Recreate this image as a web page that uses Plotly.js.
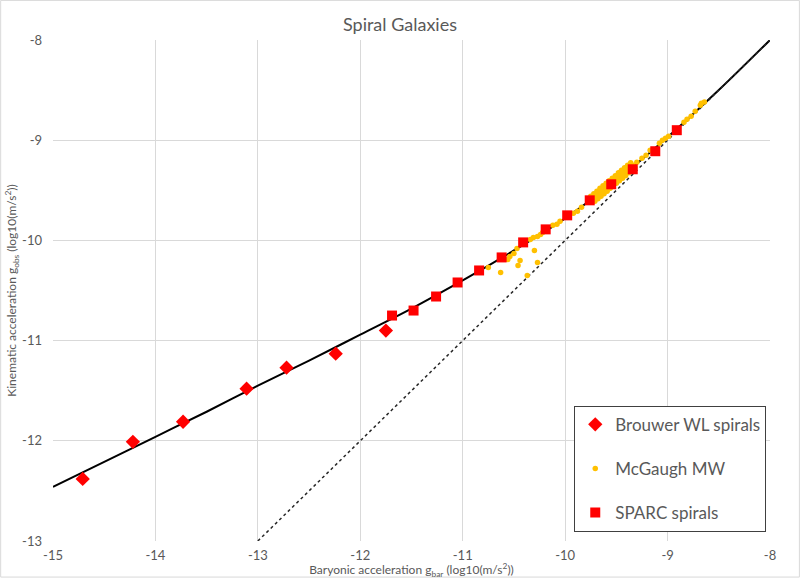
<!DOCTYPE html>
<html>
<head>
<meta charset="utf-8">
<script src="https://cdn.plot.ly/plotly-3.0.1.min.js"></script>
<style>
  body { margin: 0; background: #fff; }
  #chart { width: 800px; height: 579px; }
</style>
</head>
<body>
<div id="chart"></div>
<script>
// Relation curve (log10 g_bar vs log10 g_obs)
const curveX = [-15, -14.5, -14, -13.5, -13, -12.5, -12, -11.5, -11, -10.5, -10, -9.5, -9, -8.5, -8];
const curveY = [-12.46, -12.21, -11.96, -11.71, -11.45, -11.2, -10.94, -10.68, -10.4, -10.1, -9.78, -9.4, -8.97, -8.5, -8.0];

// 1:1 line
const unityX = [-13, -8];
const unityY = [-13, -8];

// Brouwer WL spirals
const brouwerX = [-14.71, -14.22, -13.73, -13.11, -12.72, -12.24, -11.75];
const brouwerY = [-12.38, -12.01, -11.81, -11.48, -11.27, -11.13, -10.9];

// SPARC spirals
const sparcX = [-11.69, -11.48, -11.26, -11.05, -10.84, -10.62, -10.41, -10.19, -9.98, -9.76, -9.55, -9.34, -9.12, -8.91];
const sparcY = [-10.75, -10.7, -10.56, -10.42, -10.3, -10.17, -10.02, -9.89, -9.75, -9.6, -9.44, -9.29, -9.11, -8.9];

// McGaugh MW
const mwX = [
  -10.75, -10.63, -10.56, -10.54, -10.5, -10.47, -10.46, -10.44, -10.37, -10.3, -10.27,
  -10.34, -10.31, -10.27, -10.24, -10.22, -10.12, -10.08, -10.05,
  -9.92, -9.88, -9.84,
  -9.73, -9.7, -9.67, -9.64, -9.61, -9.58, -9.55, -9.52, -9.49, -9.46, -9.43, -9.4, -9.37, -9.34,
  -9.75, -9.72, -9.69, -9.66, -9.63, -9.6, -9.57, -9.54, -9.51, -9.48, -9.45, -9.42, -9.39, -9.36,
  -9.71, -9.68, -9.65, -9.62, -9.59, -9.56, -9.53, -9.5, -9.47, -9.44, -9.41, -9.38, -9.35, -9.32,
  -9.3, -9.25, -9.21, -9.17, -9.08, -9.05, -9.02, -8.99, -8.84, -8.81, -8.77, -8.73, -8.68, -8.67, -8.64
];
const mwY = [
  -10.27, -10.32, -10.19, -10.16, -10.13, -10.08, -10.25, -10.2, -10.35, -10.1, -10.22,
  -9.99, -9.97, -9.96, -9.94, -9.92, -9.85, -9.84, -9.81,
  -9.73, -9.71, -9.67,
  -9.58, -9.56, -9.53, -9.51, -9.48, -9.46, -9.43, -9.4, -9.38, -9.35, -9.33, -9.3, -9.27, -9.25,
  -9.56, -9.535, -9.51, -9.48, -9.455, -9.43, -9.405, -9.38, -9.355, -9.325, -9.3, -9.275, -9.25, -9.225,
  -9.61, -9.585, -9.56, -9.535, -9.51, -9.48, -9.455, -9.43, -9.405, -9.38, -9.355, -9.325, -9.3, -9.275,
  -9.22, -9.18, -9.15, -9.1, -9.03, -9.0, -8.98, -8.96, -8.82, -8.79, -8.76, -8.71, -8.65, -8.63, -8.62
];

// Tick labels (plain hyphen, as in the reference)
const xTickVals = [-15, -14, -13, -12, -11, -10, -9, -8];
const xTickText = ['-15', '-14', '-13', '-12', '-11', '-10', '-9', '-8'];
const yTickVals = [-13, -12, -11, -10, -9, -8];
const yTickText = ['-13', '-12', '-11', '-10', '-9', '-8'];

const textColor = '#595959';
const gridColor = '#d9d9d9';

const data = [
  {
    x: curveX, y: curveY, type: 'scatter', mode: 'lines',
    line: { color: '#000000', width: 2, shape: 'spline' },
    showlegend: false, hoverinfo: 'skip'
  },
  {
    x: unityX, y: unityY, type: 'scatter', mode: 'lines',
    line: { color: '#262626', width: 1.5, dash: 'dot' },
    showlegend: false, hoverinfo: 'skip'
  },
  {
    x: brouwerX, y: brouwerY, type: 'scatter', mode: 'markers',
    name: 'Brouwer WL spirals', legendgroup: 'a',
    marker: { symbol: 'diamond', color: '#ff0000', size: 11 }
  },
  {
    x: mwX, y: mwY, type: 'scatter', mode: 'markers',
    name: 'McGaugh MW', legendgroup: 'b',
    marker: { symbol: 'circle', color: '#ffc000', size: 5.5 }
  },
  {
    x: sparcX, y: sparcY, type: 'scatter', mode: 'markers',
    name: 'SPARC spirals', legendgroup: 'c',
    marker: { symbol: 'square', color: '#ff0000', size: 10 }
  }
];

const layout = {
  width: 800,
  height: 579,
  margin: { l: 53, r: 30, t: 40, b: 38 },
  paper_bgcolor: '#ffffff',
  plot_bgcolor: '#ffffff',
  font: { family: 'Lato, "Open Sans", sans-serif', color: textColor },
  title: {
    text: 'Spiral Galaxies',
    font: { size: 18, color: textColor },
    x: 0.5, xanchor: 'center', y: 0.958, yanchor: 'middle'
  },
  xaxis: {
    range: [-15, -8], tickvals: xTickVals, ticktext: xTickText,
    showgrid: true, gridcolor: gridColor, gridwidth: 1,
    zeroline: false, showline: false, ticks: '', ticklabelstandoff: 5,
    tickfont: { size: 13, color: textColor },
    title: {
      text: 'Baryonic acceleration g<sub>bar</sub> (log10(m/s<sup>2</sup>))',
      font: { size: 12, color: textColor }, standoff: 0
    }
  },
  yaxis: {
    range: [-13, -8], tickvals: yTickVals, ticktext: yTickText,
    showgrid: true, gridcolor: gridColor, gridwidth: 1,
    zeroline: false, showline: false, ticks: '', ticklabelstandoff: 10,
    tickfont: { size: 13, color: textColor },
    title: {
      text: 'Kinematic acceleration g<sub>obs</sub> (log10(m/s<sup>2</sup>))',
      font: { size: 12, color: textColor }, standoff: 2
    }
  },
  legend: {
    x: 0.727, xanchor: 'left', y: 0.27, yanchor: 'top',
    bgcolor: '#ffffff', bordercolor: '#404040', borderwidth: 1,
    font: { size: 17, color: textColor },
    traceorder: 'grouped', tracegroupgap: 19
  },
  shapes: [{
    type: 'rect', xref: 'paper', yref: 'paper',
    x0: -0.073, x1: 1.041, y0: -0.072, y1: 1.079,
    line: { color: gridColor, width: 1 }, fillcolor: 'rgba(0,0,0,0)', layer: 'below'
  }]
};

Plotly.newPlot('chart', data, layout, { displayModeBar: false, staticPlot: true });
</script>
</body>
</html>
